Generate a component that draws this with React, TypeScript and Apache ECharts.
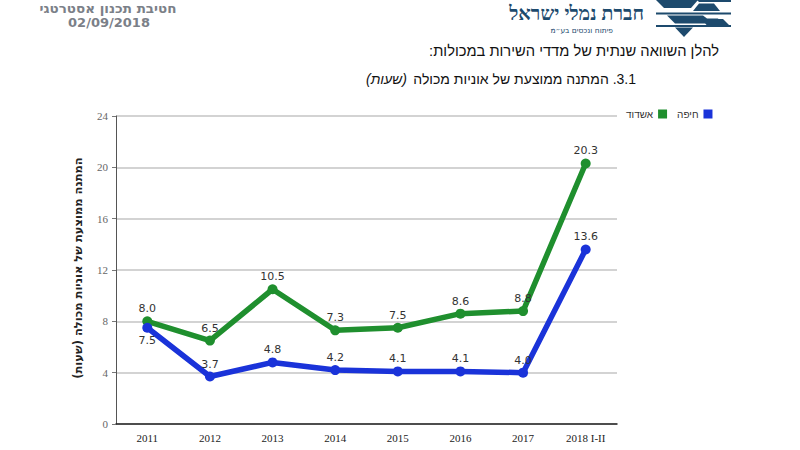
import React, { useEffect, useRef } from "react";
import * as echarts from "echarts";

const categories = ["2011", "2012", "2013", "2014", "2015", "2016", "2017", "2018 I-II"];
const ashdod = [8.0, 6.5, 10.5, 7.3, 7.5, 8.6, 8.8, 20.3];
const haifa = [7.5, 3.7, 4.8, 4.2, 4.1, 4.1, 4.0, 13.6];
const seriesNames = ["אשדוד", "חיפה"];
const yTicks = { min: 0, max: 24, interval: 4 };

const GREEN = "#1f8f2e";
const BLUE = "#1a33d9";
const LOGO = "#1d4a6d";
const RLE = "\u202B";
const PDF = "\u202C";
const HEB = "Liberation Sans, DejaVu Sans, Noto Sans";

export default function App() {
  const ref = useRef<HTMLDivElement>(null);
  useEffect(() => {
    if (!ref.current) return;
    const chart = echarts.init(ref.current, null, { renderer: "svg" });
    const labelStyle = {
      show: true,
      fontSize: 11,
      color: "#333",
      fontFamily: "DejaVu Sans",
      distance: 2,
      formatter: (p: any) => Number(p.value).toFixed(1),
    };
    chart.setOption({
      animation: false,
      backgroundColor: "#ffffff",
      grid: { left: 116, right: 183, top: 116, bottom: 26, containLabel: false },
      legend: {
        data: seriesNames,
        left: 621,
        top: 104,
        align: "right",
        icon: "rect",
        itemWidth: 9,
        itemHeight: 9,
        itemGap: 10,
        textStyle: { fontSize: 10, color: "#333", fontFamily: HEB },
      },
      xAxis: {
        type: "category",
        data: categories,
        boundaryGap: true,
        axisLine: { lineStyle: { color: "#222", width: 1.5 } },
        axisTick: { show: false },
        axisLabel: { fontSize: 11, color: "#222", fontFamily: "Liberation Serif", margin: 8 },
      },
      yAxis: {
        type: "value",
        min: yTicks.min,
        max: yTicks.max,
        interval: yTicks.interval,
        axisLine: { show: true, lineStyle: { color: "#555", width: 1 } },
        axisTick: { show: true, length: 4, lineStyle: { color: "#777" } },
        axisLabel: { fontSize: 11, color: "#666", fontFamily: "Liberation Serif", margin: 8 },
        splitLine: { lineStyle: { color: "#c4c4c4", width: 1.5 } },
      },
      series: [
        {
          name: seriesNames[0],
          type: "line",
          data: ashdod,
          color: GREEN,
          lineStyle: { width: 5.5, color: GREEN },
          symbol: "circle",
          symbolSize: 10,
          itemStyle: { color: GREEN },
          label: { ...labelStyle, position: "top" },
          z: 2,
        },
        {
          name: seriesNames[1],
          type: "line",
          data: haifa.map((v, i) => ({
            value: v,
            label: { position: i === 0 ? "bottom" : "top" },
          })),
          color: BLUE,
          lineStyle: { width: 5.5, color: BLUE },
          symbol: "circle",
          symbolSize: 10,
          itemStyle: { color: BLUE },
          label: { ...labelStyle, position: "top" },
          z: 3,
        },
      ],
      graphic: [
        {
          type: "text",
          x: 108,
          y: 8,
          style: {
            text: "חטיבת תכנון אסטרטגי",
            fontSize: 13.5,
            fontWeight: "bold",
            fill: "#7b8088",
            fontFamily: "DejaVu Sans",
            align: "center",
            verticalAlign: "middle",
          },
        },
        {
          type: "text",
          x: 109,
          y: 22,
          style: {
            text: "02/09/2018",
            fontSize: 13,
            fontWeight: "bold",
            fill: "#7b8088",
            fontFamily: "DejaVu Sans",
            align: "center",
            verticalAlign: "middle",
          },
        },
        {
          type: "text",
          x: 644,
          y: 12,
          style: {
            text: "חברת נמלי ישראל",
            fontSize: 19.5,
            lineHeight: 19,
            fontWeight: "bold",
            fill: LOGO,
            fontFamily: "Noto Sans",
            align: "right",
            verticalAlign: "middle",
          },
        },
        {
          type: "text",
          x: 613,
          y: 30,
          style: {
            text: "פיתוח ונכסים בע״מ",
            fontSize: 7.5,
            lineHeight: 8,
            fill: LOGO,
            fontFamily: "DejaVu Sans",
            align: "right",
            verticalAlign: "middle",
          },
        },
        // logo stripes
        { type: "polygon", shape: { points: [[656, 0], [698, 0], [691, 8], [664, 8]] }, style: { fill: LOGO } },
        { type: "polygon", shape: { points: [[697, 0], [731, 0], [731, 2], [699, 2]] }, style: { fill: LOGO } },
        { type: "polygon", shape: { points: [[699, 3.5], [714, 3.5], [720, 11], [693, 11]] }, style: { fill: LOGO } },
        { type: "rect", shape: { x: 656, y: 12.5, width: 75, height: 2 }, style: { fill: LOGO } },
        { type: "polygon", shape: { points: [[667, 15.5], [703, 15.5], [707, 18.5], [718, 18.5], [722, 23.5], [675, 23.5]] }, style: { fill: LOGO } },
        { type: "rect", shape: { x: 656, y: 25, width: 75, height: 2 }, style: { fill: LOGO } },
        { type: "polygon", shape: { points: [[702, 19], [723, 19], [731, 27], [708, 27]] }, style: { fill: LOGO } },
        { type: "polygon", shape: { points: [[675, 27.5], [693, 27.5], [684, 37]] }, style: { fill: LOGO } },
        {
          type: "text",
          x: 719,
          y: 51,
          style: {
            text: RLE + "להלן השוואה שנתית של מדדי השירות במכולות:" + PDF,
            fontSize: 14.7,
            fill: "#111",
            fontFamily: HEB,
            align: "right",
            verticalAlign: "middle",
          },
        },
        {
          type: "text",
          x: 636,
          y: 79,
          style: {
            text: RLE + "3.1. המתנה ממוצעת של אוניות מכולה" + PDF,
            fontSize: 14,
            fill: "#111",
            fontFamily: HEB,
            align: "right",
            verticalAlign: "middle",
          },
        },
        {
          type: "text",
          x: 407,
          y: 79,
          style: {
            text: RLE + "(שעות)" + PDF,
            fontSize: 14,
            fontStyle: "italic",
            fill: "#111",
            fontFamily: HEB,
            align: "right",
            verticalAlign: "middle",
          },
        },
        {
          type: "text",
          x: 78,
          y: 268,
          rotation: Math.PI / 2,
          style: {
            text: RLE + "המתנה ממוצעת של אוניות מכולה (שעות)" + PDF,
            fontSize: 11.5,
            fontWeight: "bold",
            fill: "#222",
            fontFamily: "DejaVu Sans",
            align: "center",
            verticalAlign: "middle",
          },
        },
      ],
    });
    return () => chart.dispose();
  }, []);
  return (
    <div
      ref={ref}
      style={{ position: "absolute", left: 0, top: 0, width: 800, height: 450 }}
    />
  );
}
